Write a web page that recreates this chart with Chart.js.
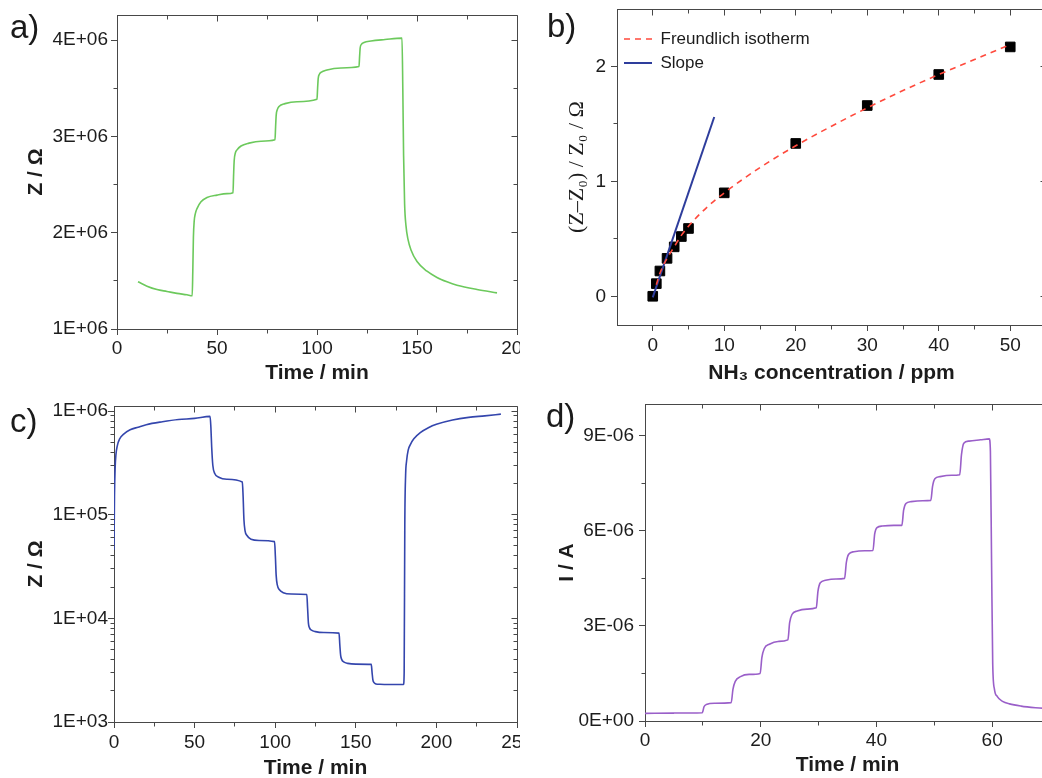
<!DOCTYPE html>
<html><head><meta charset="utf-8">
<script src="https://cdn.jsdelivr.net/npm/chart.js@4.4.1/dist/chart.umd.min.js"></script>
<style>
html,body{margin:0;padding:0;background:#fff;overflow:hidden;width:1042px;height:778px;position:relative;}
canvas{position:absolute;}
.lbl{position:absolute;font-family:'Liberation Sans',Arial,sans-serif;font-size:33px;line-height:33px;color:#1a1a1a;}
</style></head><body>
<canvas id="ca" width="520" height="390" style="left:0;top:0"></canvas>
<canvas id="cb" width="540" height="390" style="left:520px;top:0"></canvas>
<canvas id="cc" width="520" height="400" style="left:0;top:390px"></canvas>
<canvas id="cd" width="540" height="400" style="left:520px;top:390px"></canvas>
<div class="lbl" style="left:10px;top:10px">a)</div>
<div class="lbl" style="left:547px;top:9px">b)</div>
<div class="lbl" style="left:10px;top:404px">c)</div>
<div class="lbl" style="left:546px;top:399px">d)</div>
<script>
// ---------- Panel a data ----------
const aTime = [10.5,15,20,25,30,35,37.6,37.9,38.2,38.6,39.2,40,42,45,50,55,58,58.3,58.6,59.2,60,62,66,72,79,79.3,79.6,80.2,81,84,90,100,100.3,100.6,101.2,102,105,112,121,121.3,121.6,122.2,123.5,127,134,142.5,142.9,143.3,143.8,144.5,145.5,147,150,155,160,165,170,180,190];
const aZ = [1.49e6,1.445e6,1.41e6,1.39e6,1.37e6,1.355e6,1.345e6,1.6e6,1.95e6,2.12e6,2.2e6,2.25e6,2.32e6,2.365e6,2.39e6,2.405e6,2.415e6,2.6e6,2.75e6,2.83e6,2.86e6,2.9e6,2.93e6,2.95e6,2.965e6,3.1e6,3.22e6,3.28e6,3.31e6,3.34e6,3.36e6,3.385e6,3.5e6,3.6e6,3.645e6,3.665e6,3.69e6,3.71e6,3.725e6,3.83e6,3.92e6,3.955e6,3.975e6,3.99e6,4.005e6,4.02e6,3.5e6,2.8e6,2.3e6,2.07e6,1.93e6,1.82e6,1.7e6,1.6e6,1.535e6,1.49e6,1.455e6,1.41e6,1.375e6];
const aXTicks = [0,50,100,150,200];
const aXLabels = ['0','50','100','150','200'];
const aXMinor = [25,75,125,175];
const aYTicks = [1e6,2e6,3e6,4e6];
const aYLabels = ['1E+06','2E+06','3E+06','4E+06'];
const aYMinor = [1.5e6,2.5e6,3.5e6];

// ---------- Panel b data ----------
const bConc = [0,0.5,1,2,3,4,5,10,20,30,40,50];
const bResp = [0,0.11,0.22,0.33,0.43,0.52,0.59,0.9,1.33,1.66,1.93,2.17];
const bFitX = [0.5,1,2,3,4,5,7.5,10,15,20,25,30,35,40,45,50];
const bFitY = [0.1,0.2,0.33,0.43,0.53,0.61,0.77,0.9,1.12,1.31,1.48,1.64,1.79,1.93,2.06,2.19];
const bSlopeX = [0,8.6];
const bSlopeY = [-0.01,1.56];
const bXTicks = [0,10,20,30,40,50];
const bXLabels = ['0','10','20','30','40','50'];
const bXMinor = [5,15,25,35,45];
const bYTicks = [0,1,2];
const bYLabels = ['0','1','2'];
const bYMinor = [0.5,1.5];

// ---------- Panel c data ----------
const cTime = [0,0.3,0.7,1.2,2,3.5,6,10,15,20,30,40,50,59.6,60.1,60.6,61.3,62.5,65,70,79.6,80.1,80.6,81.3,82.5,85,90,99.6,100.1,100.6,101.3,102.5,105,110,119.6,120.1,120.6,121.3,122.5,125,130,139.6,140.1,140.6,141.3,142.5,145,150,159.6,160.1,160.6,161.3,162.5,165,170,179.6,180,180.4,180.9,181.5,182.5,184,186,190,195,200,210,220,230,240];
const cZ = [4.6e4,1.5e5,2.8e5,3.8e5,4.6e5,5.4e5,6.0e5,6.6e5,7.0e5,7.4e5,7.9e5,8.3e5,8.5e5,8.9e5,7e5,4.5e5,3.0e5,2.5e5,2.3e5,2.2e5,2.07e5,1.5e5,9e4,7e4,6.3e4,5.8e4,5.65e4,5.5e4,4e4,2.6e4,2.1e4,1.9e4,1.77e4,1.72e4,1.7e4,1.25e4,9e3,8.1e3,7.7e3,7.45e3,7.3e3,7.2e3,5.5e3,4.4e3,4.0e3,3.8e3,3.68e3,3.62e3,3.6e3,3.0e3,2.55e3,2.4e3,2.33e3,2.31e3,2.3e3,2.3e3,3e3,8e4,2.4e5,3.3e5,4.2e5,4.8e5,5.4e5,6.2e5,6.9e5,7.45e5,8.2e5,8.7e5,9.0e5,9.35e5];
const cXTicks = [0,50,100,150,200,250];
const cXLabels = ['0','50','100','150','200','250'];
const cXMinor = [25,75,125,175,225];
const cYTicks = [1e3,1e4,1e5,1e6];
const cYLabels = ['1E+03','1E+04','1E+05','1E+06'];
const cYMinor = [2e3,3e3,4e3,5e3,6e3,7e3,8e3,9e3,2e4,3e4,4e4,5e4,6e4,7e4,8e4,9e4,2e5,3e5,4e5,5e5,6e5,7e5,8e5,9e5];

// ---------- Panel d data ----------
const dTime = [0,5,9.9,10.2,10.6,12,14.9,15.2,15.6,16.5,18,19.9,20.2,20.6,21.5,23,24.7,25.0,25.4,26.3,28,29.6,29.9,30.3,31.2,33,34.5,34.8,35.2,36.1,38,39.4,39.7,40.1,41,43,44.4,44.7,45.1,46,48,49.4,49.7,50.1,51,53,54.4,54.7,55.1,56,58,59.5,59.7,59.9,60.1,60.4,60.9,61.8,63,65,67.5,70];
const dI = [0.24e-6,0.25e-6,0.26e-6,0.45e-6,0.52e-6,0.56e-6,0.58e-6,1.0e-6,1.25e-6,1.4e-6,1.47e-6,1.5e-6,2.0e-6,2.28e-6,2.42e-6,2.51e-6,2.56e-6,3.1e-6,3.36e-6,3.47e-6,3.53e-6,3.57e-6,4.1e-6,4.36e-6,4.44e-6,4.48e-6,4.5e-6,5.0e-6,5.26e-6,5.34e-6,5.37e-6,5.38e-6,5.9e-6,6.1e-6,6.15e-6,6.17e-6,6.17e-6,6.65e-6,6.86e-6,6.92e-6,6.95e-6,6.96e-6,7.4e-6,7.64e-6,7.71e-6,7.75e-6,7.77e-6,8.4e-6,8.76e-6,8.83e-6,8.87e-6,8.9e-6,8.5e-6,5.0e-6,1.8e-6,1.0e-6,0.77e-6,0.62e-6,0.54e-6,0.47e-6,0.42e-6,0.39e-6];
const dXTicks = [0,20,40,60];
const dXLabels = ['0','20','40','60'];
const dXMinor = [10,30,50];
const dYTicks = [0,3e-6,6e-6,9e-6];
const dYLabels = ['0E+00','3E-06','6E-06','9E-06'];
const dYMinor = [1.5e-6,4.5e-6,7.5e-6];

// ---------- styling helpers ----------
const FONT = "'Liberation Sans', Arial, sans-serif";
const INK = '#1c1c1c', AXIS = '#474747';
const toXY = (xs, ys) => xs.map((v, i) => ({x: v, y: ys[i]}));

function axis(o) {
  const left = o.pos === 'left';
  return {
    type: o.type || 'linear', min: o.min, max: o.max, position: o.pos,
    afterBuildTicks: s => { s.ticks = o.ticks.map(v => ({value: v})); },
    afterFit: s => {
      if (left) s.width = o.size; else s.height = o.size;
      s.paddingLeft = 0; s.paddingRight = 0; s.paddingTop = 0; s.paddingBottom = 0;
    },
    ticks: { callback: (v, i) => o.labels[i], autoSkip: false, maxRotation: 0, minRotation: 0,
             padding: o.tickPad, color: INK, font: {family: FONT, size: 19} },
    grid: { display: true, drawOnChartArea: false, drawTicks: true, tickLength: 6, color: AXIS, lineWidth: 1 },
    border: { display: true, color: AXIS, width: 1 },
    title: { display: true, text: o.title, color: INK,
             font: o.titleFont || {family: FONT, size: 21, weight: 'bold', lineHeight: 1.2},
             padding: left ? {top: o.titlePad, bottom: 0} : {top: 0, bottom: o.titlePad} }
  };
}

const framePlugin = {
  id: 'frame',
  afterDraw(chart, args, opts) {
    const {ctx, chartArea: a} = chart;
    const xs = chart.scales.x, ys = chart.scales.y;
    const al = p => Math.round(p + 0.5) - 0.5;
    const T = al(a.top), B = al(a.bottom), L = al(a.left), R = al(a.right);
    ctx.save();
    ctx.strokeStyle = AXIS; ctx.lineWidth = 1;
    ctx.beginPath();
    ctx.moveTo(L, T); ctx.lineTo(R, T); ctx.lineTo(R, B);
    const MJ = 6, MN = 4;
    xs.ticks.forEach((t, i) => { const p = al(xs.getPixelForTick(i)); ctx.moveTo(p, T); ctx.lineTo(p, T + MJ); });
    ys.ticks.forEach((t, i) => { const p = al(ys.getPixelForTick(i)); ctx.moveTo(R, p); ctx.lineTo(R - MJ, p); });
    (opts.xMinor || []).forEach(v => { const p = al(xs.getPixelForValue(v));
      ctx.moveTo(p, B); ctx.lineTo(p, B + MN); ctx.moveTo(p, T); ctx.lineTo(p, T + MN); });
    (opts.yMinor || []).forEach(v => { const p = al(ys.getPixelForValue(v));
      ctx.moveTo(L, p); ctx.lineTo(L - MN, p); ctx.moveTo(R, p); ctx.lineTo(R - MN, p); });
    ctx.stroke();
    ctx.restore();
  }
};

function base(padding, xScale, yScale, minor, extraPlugins) {
  return {
    responsive: false, animation: false, events: [],
    layout: { padding },
    scales: { x: xScale, y: yScale },
    plugins: Object.assign({ legend: {display: false}, tooltip: {enabled: false}, frame: minor }, extraPlugins || {})
  };
}
const lineDs = (data, color) => ({ data, borderColor: color, borderWidth: 1.6, pointRadius: 0,
  cubicInterpolationMode: 'monotone', fill: false });

// ---------- Panel a ----------
new Chart(document.getElementById('ca'), {
  type: 'line',
  data: { datasets: [ lineDs(toXY(aTime, aZ), '#6cc95c') ] },
  options: base({left: 0, top: 15, right: 3, bottom: 0},
    axis({pos: 'bottom', min: 0, max: 200, ticks: aXTicks, labels: aXLabels, size: 61, tickPad: 2, title: 'Time / min', titlePad: 4.4}),
    axis({pos: 'left', min: 1e6, max: 4.26e6, ticks: aYTicks, labels: aYLabels, size: 117, tickPad: 3, title: 'Z / \u03A9', titlePad: 23.4}),
    {xMinor: aXMinor, yMinor: aYMinor}),
  plugins: [framePlugin]
});

// ---------- Panel b ----------
new Chart(document.getElementById('cb'), {
  type: 'line',
  data: { datasets: [
    { label: 'Freundlich isotherm', data: toXY(bFitX, bFitY), borderColor: '#ff4a3d', borderWidth: 1.6,
      borderDash: [6, 5], pointRadius: 0, cubicInterpolationMode: 'monotone', fill: false },
    { label: 'Slope', data: toXY(bSlopeX, bSlopeY), borderColor: '#2e3d9c', borderWidth: 2, pointRadius: 0, fill: false },
    { label: 'data', data: toXY(bConc, bResp), showLine: false, pointStyle: 'rect', pointRadius: 6.8,
      backgroundColor: '#000', borderColor: '#000', borderWidth: 1 }
  ] },
  options: base({left: 0, top: 9, right: 14, bottom: 0},
    axis({pos: 'bottom', min: -5, max: 55, ticks: bXTicks, labels: bXLabels, size: 65, tickPad: 3, title: 'NH\u2083 concentration / ppm', titlePad: 4.4}),
    axis({pos: 'left', min: -0.25, max: 2.5, ticks: bYTicks, labels: bYLabels, size: 97, tickPad: 5,
          title: '(Z\u2013Z\u2080) / Z\u2080 / \u03A9', titlePad: 43.8,
          titleFont: {family: "'Liberation Serif', 'Times New Roman', serif", size: 22, lineHeight: 1.2}}),
    {xMinor: bXMinor, yMinor: bYMinor},
    { legend: { display: true, position: 'chartArea', align: 'start',
        title: { display: true, text: '', font: {size: 12, lineHeight: 1}, padding: {top: 11.5, bottom: 0} },
        labels: { usePointStyle: true, pointStyle: 'line', pointStyleWidth: 28, padding: 7,
                  color: INK, font: {family: FONT, size: 17},
                  generateLabels: chart => Chart.defaults.plugins.legend.labels.generateLabels(chart)
                    .filter(item => item.datasetIndex < 2)
                    .map(item => {
                      const ds = chart.data.datasets[item.datasetIndex];
                      item.lineDash = ds.borderDash || [];
                      item.lineWidth = ds.borderWidth;
                      item.strokeStyle = ds.borderColor;
                      item.fillStyle = ds.borderColor;
                      return item;
                    }) } } }),
  plugins: [framePlugin]
});

// ---------- Panel c ----------
new Chart(document.getElementById('cc'), {
  type: 'line',
  data: { datasets: [ lineDs(toXY(cTime, cZ), '#3446ad') ] },
  options: base({left: 0, top: 16, right: 3, bottom: 0},
    axis({pos: 'bottom', min: 0, max: 250, ticks: cXTicks, labels: cXLabels, size: 68, tickPad: 3, title: 'Time / min', titlePad: 9.4}),
    axis({pos: 'left', type: 'logarithmic', min: 1e3, max: 1.12e6, ticks: cYTicks, labels: cYLabels, size: 114, tickPad: 0, title: 'Z / \u03A9', titlePad: 23.4}),
    {xMinor: cXMinor, yMinor: cYMinor}),
  plugins: [framePlugin]
});

// ---------- Panel d ----------
new Chart(document.getElementById('cd'), {
  type: 'line',
  data: { datasets: [ lineDs(toXY(dTime, dI), '#9a5fc9') ] },
  options: base({left: 0, top: 14, right: 10, bottom: 0},
    axis({pos: 'bottom', min: 0, max: 70, ticks: dXTicks, labels: dXLabels, size: 69, tickPad: 2, title: 'Time / min', titlePad: 12.4}),
    axis({pos: 'left', min: 0, max: 1e-5, ticks: dYTicks, labels: dYLabels, size: 125, tickPad: 5, title: 'I / A', titlePad: 34.4}),
    {xMinor: dXMinor, yMinor: dYMinor}),
  plugins: [framePlugin]
});
</script>
</body></html>
